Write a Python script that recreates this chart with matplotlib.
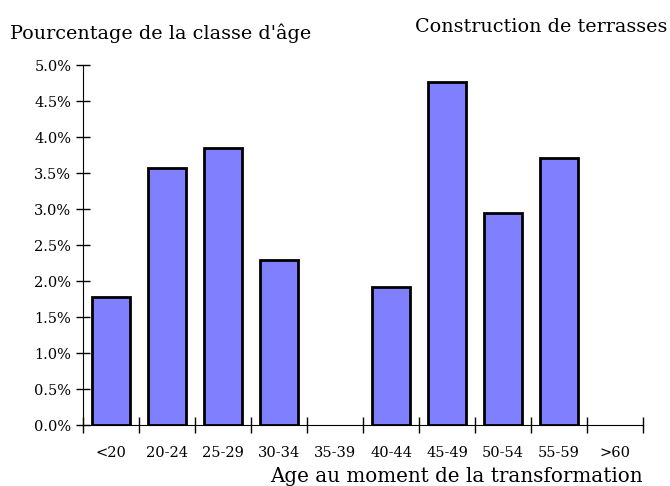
import matplotlib
matplotlib.use("Agg")
from matplotlib import pyplot as plt
from matplotlib.ticker import FuncFormatter, MultipleLocator

categories = ["<20", "20-24", "25-29", "30-34", "35-39", "40-44", "45-49", "50-54", "55-59", ">60"]
values = [1.78, 3.57, 3.85, 2.29, 0.0, 1.92, 4.77, 2.95, 3.71, 0.0]

plt.rcParams["font.family"] = ["DejaVu Serif"]

fig = plt.figure(figsize=(6.7, 4.86), dpi=100)
ax = fig.add_axes([0.124, 0.1255, 0.836, 0.7405])

x = list(range(len(categories)))
# pas de contour pour les classes vides
edges = ["black" if v > 0 else "none" for v in values]
ax.bar(x, values, width=0.68, color="#8080ff", edgecolor=edges, linewidth=2, zorder=3)

ax.set_xlim(-0.5, len(categories) - 0.5)
ax.set_ylim(0, 5.0)
ax.yaxis.set_major_locator(MultipleLocator(0.5))
ax.yaxis.set_major_formatter(FuncFormatter(lambda v, p: f"{v:.1f}%"))
ax.set_xticks([i - 0.5 for i in range(len(categories) + 1)])
ax.set_xticklabels([])
ax.set_xticks(x, minor=True)
ax.set_xticklabels(categories, minor=True)
ax.tick_params(axis="x", which="minor", length=0, pad=15, labelsize=10.5)
ax.tick_params(axis="x", which="major", direction="inout", length=11, width=1)
ax.tick_params(axis="y", direction="inout", length=10, width=1, labelsize=10.5)

for s in ["top", "right"]:
    ax.spines[s].set_visible(False)

fig.text(10 / 670, 1 - 33 / 486, "Pourcentage de la classe d'âge", fontsize=13.8, va="center", ha="left")
fig.text(667 / 670, 1 - 27 / 486, "Construction de terrasses", fontsize=13.8, va="center", ha="right")
fig.text(643 / 670, 1 - 476 / 486, "Age au moment de la transformation", fontsize=14.3, va="center", ha="right")

plt.savefig("out.png", dpi=100)
